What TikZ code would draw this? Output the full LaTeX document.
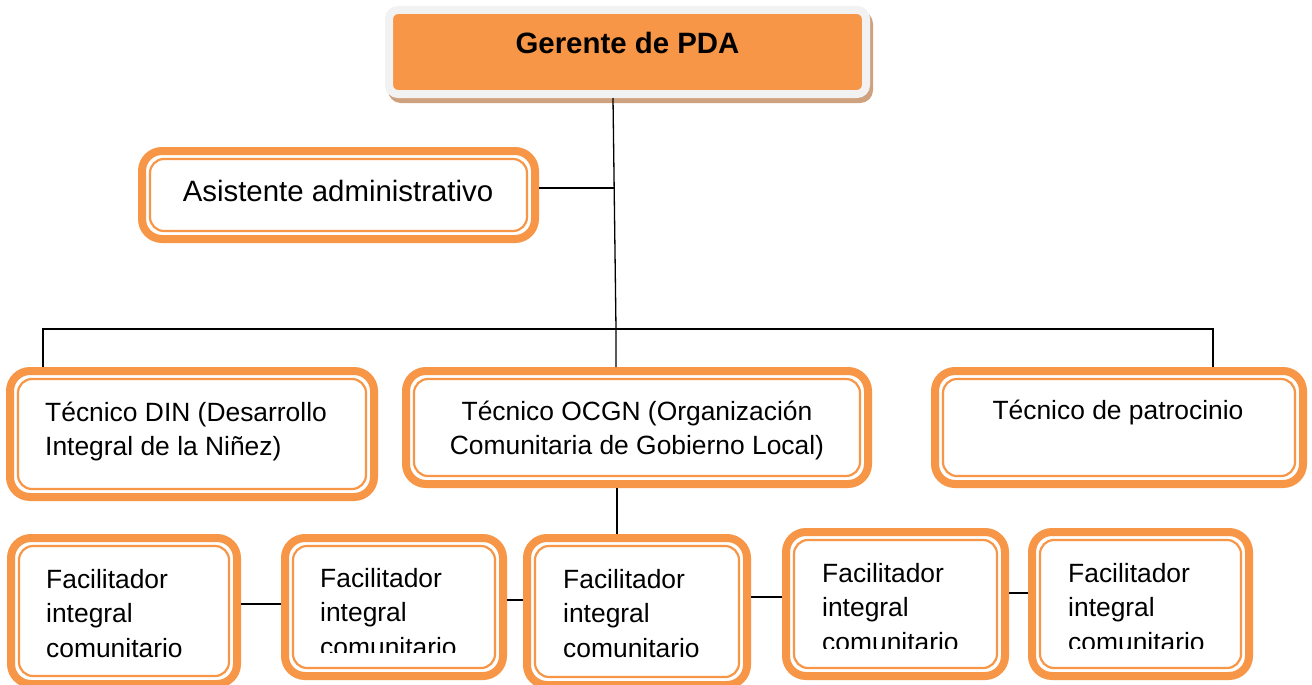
\documentclass[tikz,border=0pt]{standalone}
\usepackage{fontspec}
\setmainfont{Liberation Sans}
\definecolor{orng}{HTML}{F79646}
\definecolor{frameg}{HTML}{F2F2F2}
\definecolor{tanc}{HTML}{CFA27F}
\newcommand\dbox[5]{%
  \node[obox, minimum width={(#4)-(#2)-8}, minimum height={(#5)-(#3)-8}] (#1) at ({((#2)+(#4))/2},{((#3)+(#5))/2}) {};
  \node[ibox, minimum width={(#4)-(#2)-24}, minimum height={(#5)-(#3)-24}] (#1-in) at (#1.center) {};
}
\newcommand\lftwo[2]{\vtop{\hbox{#1}\hbox{#2}}}
\newcommand\cntwo[2]{\vtop{\hbox to 0pt{\hss#1\hss}\hbox to 0pt{\hss#2\hss}}}
\newcommand\lfthree[3]{\vtop{\hbox{#1}\hbox{#2}\hbox{#3}}}
\begin{document}
\begin{tikzpicture}[x=1pt,y=-1pt,
  obox/.style={draw=orng, line width=8pt, fill=white, rounded corners=20pt, inner sep=0pt, outer sep=4pt},
  ibox/.style={draw=orng, line width=2.2pt, rounded corners=14pt, inner sep=0pt, outer sep=0pt},
  gerbox/.style={draw=frameg, line width=8pt, fill=orng, rounded corners=9pt, inner sep=0pt, outer sep=4pt,
    preaction={draw=tanc, fill=tanc, transform canvas={xshift=3pt, yshift=-5pt}}},
  txt/.style={inner sep=0pt, font=\fontsize{26.4}{34.5}\selectfont},
  bigtxt/.style={inner sep=0pt, font=\fontsize{29.4}{36}\selectfont},
  bigbold/.style={inner sep=0pt, font=\fontsize{29.4}{36}\selectfont\bfseries},
  conn/.style={draw=black, line width=1.3pt}]
\useasboundingbox (0,0) rectangle (1312,685);
\fill[white] (0,0) rectangle (1312,685);
\clip (0,0) rectangle (1312,685);

% top
\node[gerbox, minimum width=477, minimum height=84] (ger) at (627.5,52) {};
\node[bigbold, anchor=base] (ger-t) at (627.5,54) {Gerente de PDA};

\dbox{asis}{138}{147}{539}{243}
\node[bigtxt, anchor=base] (asis-t) at (338,201) {Asistente administrativo};

% middle row
\dbox{din}{6}{367}{378}{501}
\dbox{ocgn}{402}{367}{872}{488}
\dbox{pat}{931}{367}{1307}{488}
\node[txt, anchor=base west] (din-t) at (45,421) {\lftwo{Técnico DIN (Desarrollo}{Integral de la Niñez)}};
\node[txt, anchor=base] (ocgn-t) at (637,420) {\cntwo{Técnico OCGN (Organización}{Comunitaria de Gobierno Local)}};
\node[txt, anchor=base] (pat-t) at (1118,419) {Técnico de patrocinio};

% bottom row
\dbox{f1}{7}{534}{241}{688}
\dbox{f2}{281}{534}{507}{680}
\dbox{f3}{523}{534}{751}{689}
\dbox{f4}{782}{528}{1009}{680}
\dbox{f5}{1028}{528}{1253}{680}
\node[txt, anchor=base west] (f1-t) at (46,588) {\lfthree{Facilitador}{integral}{comunitario}};
\begin{scope}
  \clip (281,534) rectangle (507,652);
  \node[txt, anchor=base west] (f2-t) at (320,587) {\lfthree{Facilitador}{integral}{comunitario}};
\end{scope}
\node[txt, anchor=base west] (f3-t) at (563,588) {\lfthree{Facilitador}{integral}{comunitario}};
\begin{scope}
  \clip (782,528) rectangle (1009,648);
  \node[txt, anchor=base west] (f4-t) at (822,582) {\lfthree{Facilitador}{integral}{comunitario}};
\end{scope}
\begin{scope}
  \clip (1028,528) rectangle (1253,648);
  \node[txt, anchor=base west] (f5-t) at (1068,582) {\lfthree{Facilitador}{integral}{comunitario}};
\end{scope}

% connectors
\coordinate (gb) at (613,98);
\coordinate (ja) at (614,188);
\coordinate (bl) at (43,329);
\coordinate (bm) at (616,329);
\coordinate (br) at (1213,329);
\coordinate (ob) at (617,488);
\coordinate (y12) at (0,604);
\coordinate (y23) at (0,600);
\coordinate (y34) at (0,597);
\coordinate (y45) at (0,593);
\draw[conn] (gb) -- (bm) -- (bm |- ocgn.north);
\draw[conn] (asis.east |- ja) -- (ja);
\draw[conn] (bl |- din.north) -- (bl) -- (br) -- (br |- pat.north);
\draw[conn] (ob |- ocgn.south) -- (ob |- f3.north);
\draw[conn] (f1.east |- y12) -- (f2.west |- y12);
\draw[conn] (f2.east |- y23) -- (f3.west |- y23);
\draw[conn] (f3.east |- y34) -- (f4.west |- y34);
\draw[conn] (f4.east |- y45) -- (f5.west |- y45);
\end{tikzpicture}
\end{document}
